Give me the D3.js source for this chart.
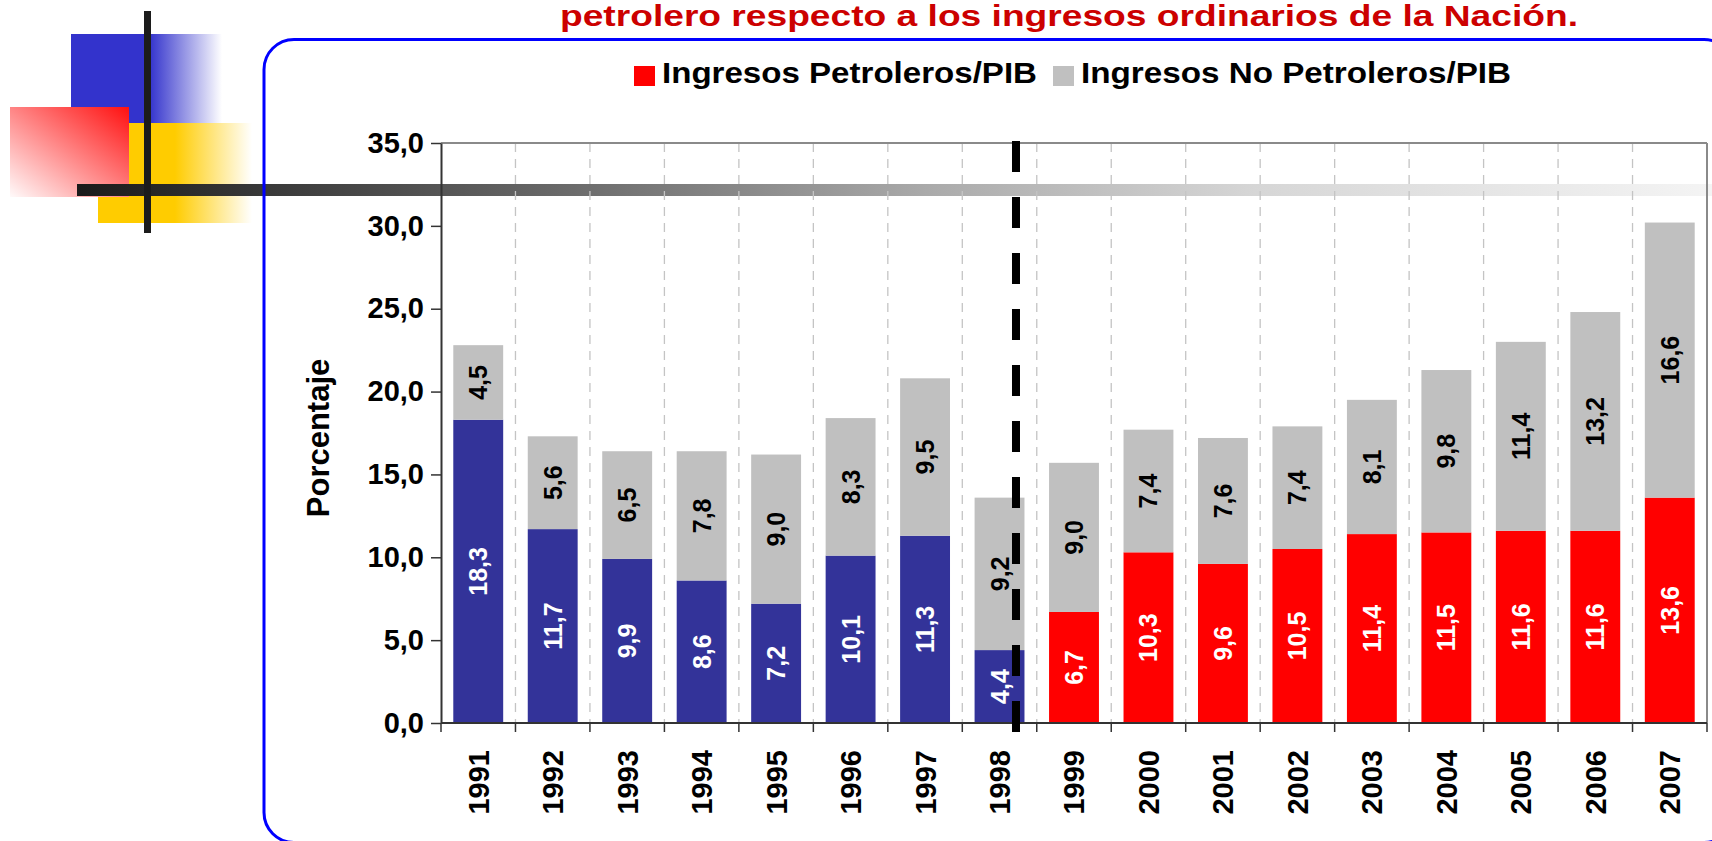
<!DOCTYPE html>
<html>
<head>
<meta charset="utf-8">
<script src="https://cdn.jsdelivr.net/npm/d3@7"></script>
<style>
  html, body { margin: 0; padding: 0; background: #fff; }
  svg { display: block; font-family: "Liberation Sans", Arial, sans-serif; }
</style>
</head>
<body>
<div id="chart"></div>
<script>
var years = ['1991', '1992', '1993', '1994', '1995', '1996', '1997', '1998', '1999',
             '2000', '2001', '2002', '2003', '2004', '2005', '2006', '2007'];
var petroleros = [18.3, 11.7, 9.9, 8.6, 7.2, 10.1, 11.3, 4.4, 6.7,
                  10.3, 9.6, 10.5, 11.4, 11.5, 11.6, 11.6, 13.6];
var noPetroleros = [4.5, 5.6, 6.5, 7.8, 9.0, 8.3, 9.5, 9.2, 9.0,
                    7.4, 7.6, 7.4, 8.1, 9.8, 11.4, 13.2, 16.6];
var yTicks = [0, 5, 10, 15, 20, 25, 30, 35];
var legendLabels = ['Ingresos Petroleros/PIB', 'Ingresos No Petroleros/PIB'];
var titleText = 'petrolero respecto a los ingresos ordinarios de la Nación.';
var firstRedYear = '1999';

var width = 1712, height = 841;
var margin = { left: 441, right: 5, top: 143, bottom: 118 };

var fmt = function(v) { return d3.format('.1f')(v).replace('.', ','); };

var svg = d3.select('#chart').append('svg')
    .attr('width', width)
    .attr('height', height);

/* gradients for the slide decoration */
var defs = svg.append('defs');

var blueGrad = defs.append('linearGradient').attr('id', 'blueGrad')
    .attr('gradientUnits', 'userSpaceOnUse')
    .attr('x1', 71).attr('y1', 0).attr('x2', 222).attr('y2', 0);
blueGrad.append('stop').attr('offset', 0).attr('stop-color', '#3333cc');
blueGrad.append('stop').attr('offset', 0.52).attr('stop-color', '#3333cc');
blueGrad.append('stop').attr('offset', 1).attr('stop-color', '#ffffff');

var yellowGrad = defs.append('linearGradient').attr('id', 'yellowGrad')
    .attr('gradientUnits', 'userSpaceOnUse')
    .attr('x1', 98).attr('y1', 0).attr('x2', 252).attr('y2', 0);
yellowGrad.append('stop').attr('offset', 0).attr('stop-color', '#ffcc00');
yellowGrad.append('stop').attr('offset', 0.5).attr('stop-color', '#ffcc00');
yellowGrad.append('stop').attr('offset', 1).attr('stop-color', '#ffffff');

var redGrad = defs.append('linearGradient').attr('id', 'redGrad')
    .attr('x1', 1).attr('y1', 0).attr('x2', 0).attr('y2', 1);
redGrad.append('stop').attr('offset', 0).attr('stop-color', '#ff1010');
redGrad.append('stop').attr('offset', 1).attr('stop-color', '#fffafa');

var barGrad = defs.append('linearGradient').attr('id', 'barGrad')
    .attr('gradientUnits', 'userSpaceOnUse')
    .attr('x1', 77).attr('y1', 0).attr('x2', 1712).attr('y2', 0);
barGrad.append('stop').attr('offset', 0).attr('stop-color', '#1a1a1a');
barGrad.append('stop').attr('offset', 0.3).attr('stop-color', '#6a6a6a');
barGrad.append('stop').attr('offset', 0.52).attr('stop-color', '#aaaaaa');
barGrad.append('stop').attr('offset', 0.72).attr('stop-color', '#d6d6d6');
barGrad.append('stop').attr('offset', 1).attr('stop-color', '#f4f4f4');

/* decoration */
var deco = svg.append('g');
deco.append('rect').attr('x', 71).attr('y', 34).attr('width', 151).attr('height', 92).attr('fill', 'url(#blueGrad)');
deco.append('rect').attr('x', 98).attr('y', 123).attr('width', 154).attr('height', 100).attr('fill', 'url(#yellowGrad)');
deco.append('rect').attr('x', 10).attr('y', 107).attr('width', 119).attr('height', 90).attr('fill', 'url(#redGrad)');
deco.append('rect').attr('x', 77).attr('y', 184).attr('width', 1635).attr('height', 12).attr('fill', 'url(#barGrad)');
deco.append('rect').attr('x', 144).attr('y', 11).attr('width', 7).attr('height', 222).attr('fill', '#1c1c1c');

/* rounded frame */
svg.append('rect')
    .attr('x', 264).attr('y', 39.5)
    .attr('width', 1470).attr('height', 803)
    .attr('rx', 30).attr('ry', 30)
    .attr('fill', 'none')
    .attr('stroke', '#0000ff')
    .attr('stroke-width', 3);

/* title (only its second line is in view) */
svg.append('text')
    .attr('x', 560).attr('y', 26)
    .attr('textLength', 1018)
    .attr('lengthAdjust', 'spacingAndGlyphs')
    .style('font-size', '29px')
    .style('font-weight', 'bold')
    .style('fill', '#cc0000')
    .text(titleText);

/* legend */
var legendX = [634, 1053];
var legendW = [375, 430];
var legendColor = ['#ff0000', '#c0c0c0'];
var legend = svg.append('g');
legendLabels.forEach(function(lbl, i) {
    legend.append('rect')
        .attr('x', legendX[i]).attr('y', 66)
        .attr('width', 21).attr('height', 20)
        .attr('fill', legendColor[i]);
    legend.append('text')
        .attr('x', legendX[i] + 28).attr('y', 83)
        .attr('textLength', legendW[i])
        .attr('lengthAdjust', 'spacingAndGlyphs')
        .style('font-size', '30px')
        .style('font-weight', 'bold')
        .text(lbl);
});

/* scales */
var x0 = margin.left, x1 = width - margin.right;
var yBase = height - margin.bottom;

var x = d3.scaleBand()
    .domain(years)
    .range([x0, x1])
    .paddingInner(0.33)
    .paddingOuter(0.165);

var y = d3.scaleLinear()
    .domain([0, 35])
    .range([yBase, margin.top]);

var step = x.step();

/* vertical dashed gridlines at category boundaries */
var bounds = d3.range(1, years.length);
svg.append('g').selectAll('line')
    .data(bounds)
    .enter().append('line')
    .attr('x1', function(i) { return x0 + i * step; })
    .attr('x2', function(i) { return x0 + i * step; })
    .attr('y1', y(35)).attr('y2', y(0))
    .attr('stroke', '#c4c4c4')
    .attr('stroke-width', 1.3)
    .attr('stroke-dasharray', '9,7');

/* plot frame: top and right */
svg.append('line')
    .attr('x1', x0).attr('x2', x1)
    .attr('y1', y(35)).attr('y2', y(35))
    .attr('stroke', '#8a8a8a').attr('stroke-width', 2);
svg.append('line')
    .attr('x1', x1).attr('x2', x1)
    .attr('y1', y(35)).attr('y2', y(0))
    .attr('stroke', '#8a8a8a').attr('stroke-width', 2);

/* stacked bars */
var bars = svg.append('g').selectAll('g')
    .data(years)
    .enter().append('g');

bars.append('rect')
    .attr('x', function(d) { return x(d); })
    .attr('width', x.bandwidth())
    .attr('y', function(d, i) { return y(petroleros[i]); })
    .attr('height', function(d, i) { return y(0) - y(petroleros[i]); })
    .attr('fill', function(d) { return d < firstRedYear ? '#333399' : '#ff0000'; });

bars.append('rect')
    .attr('x', function(d) { return x(d); })
    .attr('width', x.bandwidth())
    .attr('y', function(d, i) { return y(petroleros[i] + noPetroleros[i]); })
    .attr('height', function(d, i) { return y(petroleros[i]) - y(petroleros[i] + noPetroleros[i]); })
    .attr('fill', '#c0c0c0');

var labelText = function(sel, getY, getV, color) {
    sel.append('text')
        .attr('transform', function(d, i) {
            return 'translate(' + (x(d) + x.bandwidth() / 2) + ',' + getY(i) + ') rotate(-90)';
        })
        .attr('dy', '0.36em')
        .style('text-anchor', 'middle')
        .style('font-size', '25px')
        .style('font-weight', 'bold')
        .style('fill', color)
        .text(function(d, i) { return fmt(getV(i)); });
};

labelText(bars, function(i) { return y(petroleros[i] / 2); },
    function(i) { return petroleros[i]; }, '#ffffff');
labelText(bars, function(i) { return y(petroleros[i] + noPetroleros[i] / 2); },
    function(i) { return noPetroleros[i]; }, '#000000');

/* y axis */
var yAxis = svg.append('g')
    .attr('transform', 'translate(' + x0 + ',0)')
    .call(d3.axisLeft(y).tickValues(yTicks).tickSize(10).tickSizeOuter(0).tickFormat(fmt));
yAxis.select('.domain').attr('stroke', '#333').attr('stroke-width', 2);
yAxis.selectAll('.tick line').attr('stroke', '#333').attr('stroke-width', 1.5);
yAxis.selectAll('.tick text')
    .attr('x', -17)
    .style('font-size', '29px')
    .style('font-weight', 'bold')
    .style('font-family', '"Liberation Sans", Arial, sans-serif')
    .attr('fill', '#000');

/* x axis: labels at band centers, ticks at boundaries */
var xAxis = svg.append('g')
    .attr('transform', 'translate(0,' + yBase + ')')
    .call(d3.axisBottom(x).tickSize(0).tickSizeOuter(0));
xAxis.select('.domain').remove();
xAxis.selectAll('.tick text')
    .attr('transform', 'translate(0,27) rotate(-90)')
    .attr('x', 0).attr('y', 0)
    .attr('dy', '0.36em')
    .style('text-anchor', 'end')
    .style('font-size', '29px')
    .style('font-weight', 'bold')
    .style('font-family', '"Liberation Sans", Arial, sans-serif')
    .attr('fill', '#000');

svg.append('line')
    .attr('x1', x0).attr('x2', x1)
    .attr('y1', yBase).attr('y2', yBase)
    .attr('stroke', '#333').attr('stroke-width', 2);
svg.append('g').selectAll('line')
    .data(d3.range(0, years.length + 1))
    .enter().append('line')
    .attr('x1', function(i) { return x0 + i * step; })
    .attr('x2', function(i) { return x0 + i * step; })
    .attr('y1', yBase).attr('y2', yBase + 9)
    .attr('stroke', '#333').attr('stroke-width', 1.5);

/* y axis title */
svg.append('text')
    .attr('transform', 'translate(318,' + y(17.2) + ') rotate(-90)')
    .attr('dy', '0.36em')
    .style('text-anchor', 'middle')
    .style('font-size', '31px')
    .style('font-weight', 'bold')
    .text('Porcentaje');

/* dashed break line between 1998 and 1999 */
var breakX = x('1998') + x.bandwidth() * 0.83;
svg.append('line')
    .attr('x1', breakX).attr('x2', breakX)
    .attr('y1', y(35) - 2).attr('y2', yBase + 10)
    .attr('stroke', '#000')
    .attr('stroke-width', 8)
    .attr('stroke-dasharray', '31,25');
</script>
</body>
</html>
